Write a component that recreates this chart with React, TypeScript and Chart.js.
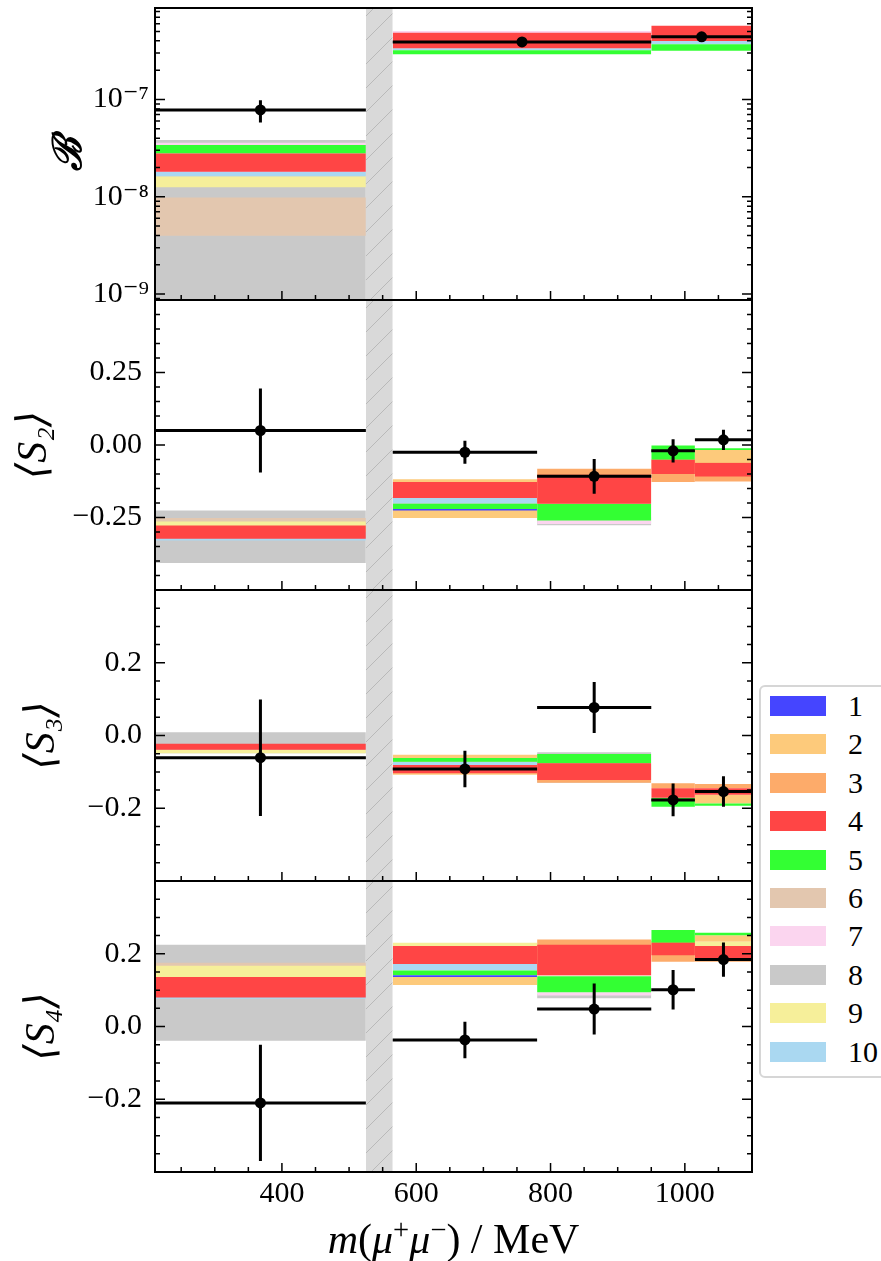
import React, { useEffect, useRef } from "react";
import { Chart, registerables } from "chart.js";
Chart.register(...registerables);

const FONT = "'Liberation Serif', 'DejaVu Serif', serif";

// ---------- models ----------
const MODEL_LABELS = ["1", "2", "3", "4", "5", "6", "7", "8", "9", "10"];
const MODEL_COLORS = [
  "#4545ff", "#fdca7b", "#fdab6a", "#ff4545", "#33ff33",
  "#e3c7af", "#fbd5ef", "#c9c9c9", "#f6ef9a", "#aad8f1",
];
// drawing order, bottom first
const DRAW_ORDER = [8, 6, 7, 2, 3, 9, 10, 5, 4, 1];

// ---------- x axis ----------
const X_RANGE = [211, 1100];
const X_MAJOR = [400, 600, 800, 1000];
const X_TICK_LABELS = ["400", "600", "800", "1000"];
const VETO = [525, 565];
const BINS_BR = [[211, 525], [565, 950], [950, 1100]];
const BINS_ANG = [[211, 525], [565, 780], [780, 950], [950, 1015], [1015, 1100]];

// ---------- measurements ----------
const BR_VALUES = [7.8e-8, 3.9e-7, 4.4e-7];
const BR_ERRORS = [2.0e-8, 1.2e-8, 1.2e-8];
const S2_VALUES = [0.05, -0.025, -0.108, -0.02, 0.018];
const S2_ERRORS = [0.145, 0.04, 0.06, 0.04, 0.035];
const S3_VALUES = [-0.061, -0.092, 0.077, -0.177, -0.154];
const S3_ERRORS = [0.16, 0.05, 0.07, 0.045, 0.042];
const S4_VALUES = [-0.21, -0.037, 0.048, 0.101, 0.184];
const S4_ERRORS = [0.16, 0.05, 0.07, 0.054, 0.047];

// ---------- predictions: [lo, hi] per model (rows 1..10) per bin ----------
type Band = number[] | null;
const BR_BANDS: Band[][] = [
  [null, null, null],
  [null, null, null],
  [null, null, null],
  [[1.81e-8, 2.79e-8], [3.35e-7, 4.84e-7], [3.98e-7, 5.71e-7]],
  [[2.79e-8, 3.4e-8], [2.91e-7, 3.2e-7], [3.17e-7, 3.68e-7]],
  [[3.97e-9, 9.86e-9], null, null],
  [[1.8e-8, 3.59e-8], [3.3e-7, 5.05e-7], null],
  [[5e-10, 3.83e-8], null, null],
  [[1.25e-8, 1.63e-8], null, null],
  [[1.63e-8, 1.81e-8], [3.2e-7, 3.35e-7], [3.68e-7, 3.98e-7]],
];
const S2_BANDS: Band[][] = [
  [null, [-0.226, -0.221], null, null, null],
  [null, [-0.252, -0.118], null, null, [-0.062, -0.017]],
  [null, null, [-0.2, -0.082], [-0.128, -0.05], [-0.126, -0.06]],
  [[-0.323, -0.278], [-0.183, -0.128], [-0.203, -0.103], [-0.1, -0.051], [-0.109, -0.062]],
  [null, [-0.221, -0.203], [-0.26, -0.203], [-0.051, -0.002], [-0.017, -0.011]],
  [[-0.3, -0.252], null, null, null, null],
  [null, null, [-0.272, -0.2], null, null],
  [[-0.407, -0.226], null, [-0.277, -0.25], null, null],
  [[-0.3, -0.264], null, null, null, null],
  [[-0.329, -0.3], [-0.203, -0.183], null, null, null],
];
const S3_BANDS: Band[][] = [
  [null, null, null, null, null],
  [null, [-0.108, -0.053], null, null, [-0.187, -0.163]],
  [null, null, [-0.13, -0.08], [-0.145, -0.131], [-0.145, -0.133]],
  [[-0.039, -0.023], [-0.104, -0.081], [-0.122, -0.076], [-0.171, -0.145], [-0.163, -0.145]],
  [null, [-0.072, -0.062], [-0.076, -0.051], [-0.196, -0.171], [-0.193, -0.187]],
  [null, null, null, null, null],
  [null, null, null, null, null],
  [[-0.049, 0.009], null, [-0.13, -0.046], null, null],
  [[-0.049, -0.039], null, null, null, null],
  [null, [-0.081, -0.072], null, null, null],
];
const S4_BANDS: Band[][] = [
  [null, [0.136, 0.141], null, null, null],
  [null, [0.114, 0.136], null, null, [0.233, 0.251]],
  [null, null, [0.141, 0.239], [0.178, 0.236], [0.178, 0.221]],
  [[0.08, 0.136], [0.172, 0.221], [0.141, 0.225], [0.196, 0.23], [0.184, 0.221]],
  [null, [0.141, 0.154], [0.094, 0.138], [0.23, 0.265], [0.251, 0.258]],
  [[0.136, 0.175], null, null, null, null],
  [null, null, [0.085, 0.094], null, null],
  [[-0.039, 0.225], null, [0.078, 0.09], null, null],
  [[0.136, 0.167], [0.172, 0.23], null, null, [0.221, 0.233]],
  [[0.076, 0.09], [0.154, 0.172], null, null, null],
];

// ---------- y tick labels ----------
const BR_TICKS = [1e-9, 1e-8, 1e-7];
const BR_TICK_LABELS = ["10\u207B\u2079", "10\u207B\u2078", "10\u207B\u2077"];
const S2_TICKS = [-0.25, 0, 0.25];
const S2_TICK_LABELS = ["\u22120.25", "0.00", "0.25"];
const S34_TICKS = [-0.2, 0, 0.2];
const S34_TICK_LABELS = ["\u22120.2", "0.0", "0.2"];

interface Panel {
  top: number;
  bottom: number;
  logY: boolean;
  yMin: number;
  yMax: number;
  yMajor: number[];
  yLabels: string[];
  minorStep: number;
  labelPad: number;
  title: string;
  titleCenter: number;
  titleFont: any;
  bins: number[][];
  bands: Band[][];
  values: number[];
  errors: number[];
  showX: boolean;
}

const TITLE_FONT = { family: FONT, size: 42, style: "italic" as const };

const PANELS: Panel[] = [
  {
    top: 8, bottom: 300, logY: true, yMin: 8.7e-10, yMax: 8.7e-7,
    yMajor: BR_TICKS, yLabels: BR_TICK_LABELS, minorStep: 0, labelPad: 6,
    title: "\u212C", titleCenter: 71,
    titleFont: { family: "'DejaVu Serif', serif", size: 40, weight: "bold" as const, style: "italic" as const },
    bins: BINS_BR, bands: BR_BANDS, values: BR_VALUES, errors: BR_ERRORS, showX: false,
  },
  {
    top: 300, bottom: 590, logY: false, yMin: -0.5, yMax: 0.5,
    yMajor: S2_TICKS, yLabels: S2_TICK_LABELS, minorStep: 0.05, labelPad: 13,
    title: "\u27E8S\u2082\u27E9", titleCenter: 35, titleFont: TITLE_FONT,
    bins: BINS_ANG, bands: S2_BANDS, values: S2_VALUES, errors: S2_ERRORS, showX: false,
  },
  {
    top: 590, bottom: 881, logY: false, yMin: -0.4, yMax: 0.4,
    yMajor: S34_TICKS, yLabels: S34_TICK_LABELS, minorStep: 0.05, labelPad: 13,
    title: "\u27E8S\u2083\u27E9", titleCenter: 43, titleFont: TITLE_FONT,
    bins: BINS_ANG, bands: S3_BANDS, values: S3_VALUES, errors: S3_ERRORS, showX: false,
  },
  {
    top: 881, bottom: 1172, logY: false, yMin: -0.4, yMax: 0.4,
    yMajor: S34_TICKS, yLabels: S34_TICK_LABELS, minorStep: 0.05, labelPad: 13,
    title: "\u27E8S\u2084\u27E9", titleCenter: 43, titleFont: TITLE_FONT,
    bins: BINS_ANG, bands: S4_BANDS, values: S4_VALUES, errors: S4_ERRORS, showX: true,
  },
];

const PAD = 10;
const X_AXIS_H = 1261 - 1172;
const AXIS_W = 155;
const RIGHT_PAD = 881 - 752;

function canvasHeight(p: Panel) {
  return p.bottom - p.top + PAD + (p.showX ? X_AXIS_H : PAD);
}

function makeHatch(): CanvasPattern {
  const s = 24;
  const c = document.createElement("canvas");
  c.width = s;
  c.height = s;
  const g = c.getContext("2d")!;
  g.fillStyle = "#d9d9d9";
  g.fillRect(0, 0, s, s);
  g.strokeStyle = "#b9b9b9";
  g.lineWidth = 1;
  g.beginPath();
  g.moveTo(0, s);
  g.lineTo(s, 0);
  g.moveTo(-2, 2);
  g.lineTo(2, -2);
  g.moveTo(s - 2, s + 2);
  g.lineTo(s + 2, s - 2);
  g.stroke();
  return g.createPattern(c, "repeat")!;
}

function minorTicks(p: Panel): number[] {
  const out: number[] = [];
  if (p.logY) {
    for (let e = -10; e <= -6; e++) {
      for (let m = 2; m <= 9; m++) {
        const v = m * Math.pow(10, e);
        if (v >= p.yMin && v <= p.yMax) out.push(v);
      }
    }
  } else {
    const n = Math.round((p.yMax - p.yMin) / p.minorStep);
    for (let i = 0; i <= n; i++) out.push(p.yMin + i * p.minorStep);
  }
  return out;
}

function xMinorTicks(): number[] {
  const out: number[] = [];
  for (let v = 250; v <= X_RANGE[1]; v += 50) out.push(v);
  return out;
}

function zeroPadding(s: any) {
  s.paddingTop = 0;
  s.paddingBottom = 0;
  s.paddingLeft = 0;
  s.paddingRight = 0;
}

function buildChart(canvas: HTMLCanvasElement, p: Panel, hatch: CanvasPattern) {
  const datasets: any[] = [];
  let k = 0;
  DRAW_ORDER.forEach((m) => {
    p.bands[m - 1].forEach((band, bi) => {
      if (!band) return;
      datasets.push({
        label: MODEL_LABELS[m - 1],
        data: [
          { x: p.bins[bi][0], y: band[1] },
          { x: p.bins[bi][1], y: band[1] },
        ],
        fill: { value: band[0] },
        backgroundColor: MODEL_COLORS[m - 1],
        borderWidth: 0,
        pointRadius: 0,
        order: 1000 - k++,
      });
    });
  });
  datasets.push({
    label: "veto",
    data: [
      { x: VETO[0], y: p.yMax },
      { x: VETO[1], y: p.yMax },
    ],
    fill: { value: p.yMin },
    backgroundColor: hatch,
    borderWidth: 0,
    pointRadius: 0,
    order: 50,
  });
  const err: any[] = [];
  p.values.forEach((v, i) => {
    const [a, b] = p.bins[i];
    const c = (a + b) / 2;
    const e = p.errors[i];
    err.push({ x: a, y: v }, { x: b, y: v }, { x: c, y: null }, { x: c, y: v - e }, { x: c, y: v + e }, { x: c, y: null });
  });
  datasets.push({
    label: "err",
    data: err,
    borderColor: "#000",
    borderWidth: 3,
    borderCapStyle: "butt",
    pointRadius: 0,
    fill: false,
    spanGaps: false,
    order: 2,
  });
  datasets.push({
    label: "data",
    data: p.values.map((v, i) => ({ x: (p.bins[i][0] + p.bins[i][1]) / 2, y: v })),
    showLine: false,
    pointRadius: 5.5,
    pointBackgroundColor: "#000",
    pointBorderColor: "#000",
    pointBorderWidth: 0,
    fill: false,
    order: 1,
  });

  const yMinor = minorTicks(p);
  const xMinor = xMinorTicks();

  const frame = {
    id: "frameTicks",
    afterDatasetsDraw(chart: any) {
      const { ctx, chartArea: a, scales } = chart;
      const xs = scales.x;
      const ys = scales.y;
      ctx.save();
      ctx.strokeStyle = "#000";
      ctx.lineWidth = 1.5;
      ctx.beginPath();
      const xt = (v: number, len: number) => {
        const px = xs.getPixelForValue(v);
        if (px <= a.left + 1 || px >= a.right - 1) return;
        ctx.moveTo(px, a.bottom);
        ctx.lineTo(px, a.bottom - len);
      };
      const yt = (v: number, len: number) => {
        const py = ys.getPixelForValue(v);
        if (py <= a.top + 1 || py >= a.bottom - 1) return;
        ctx.moveTo(a.left, py);
        ctx.lineTo(a.left + len, py);
        ctx.moveTo(a.right, py);
        ctx.lineTo(a.right - len, py);
      };
      xMinor.forEach((v) => xt(v, 5));
      X_MAJOR.forEach((v) => xt(v, 9));
      yMinor.forEach((v) => yt(v, 5));
      p.yMajor.forEach((v) => yt(v, 10));
      ctx.stroke();
      ctx.lineWidth = 2;
      ctx.strokeRect(a.left, a.top, a.right - a.left, a.bottom - a.top);
      ctx.restore();
    },
  };

  return new Chart(canvas, {
    type: "line",
    data: { datasets },
    plugins: [frame],
    options: {
      animation: false,
      responsive: false,
      devicePixelRatio: 1,
      layout: { padding: { top: PAD, bottom: p.showX ? 0 : PAD, left: 0, right: RIGHT_PAD } },
      plugins: { legend: { display: false }, tooltip: { enabled: false } },
      scales: {
        x: {
          type: "linear",
          min: X_RANGE[0],
          max: X_RANGE[1],
          bounds: "data",
          display: p.showX,
          grid: { display: false, drawTicks: false },
          border: { display: false },
          afterBuildTicks: (s: any) => {
            s.ticks = X_MAJOR.map((v) => ({ value: v }));
          },
          ticks: {
            autoSkip: false,
            maxRotation: 0,
            padding: 4,
            color: "#000",
            font: { family: FONT, size: 30 },
            callback: (_v: any, i: number) => X_TICK_LABELS[i],
          },
          afterFit: (s: any) => {
            s.height = p.showX ? X_AXIS_H : 0;
            zeroPadding(s);
          },
        },
        y: {
          type: p.logY ? "logarithmic" : "linear",
          min: p.yMin,
          max: p.yMax,
          bounds: "data",
          position: "left",
          grid: { display: false, drawTicks: false },
          border: { display: false },
          afterBuildTicks: (s: any) => {
            s.ticks = p.yMajor.map((v) => ({ value: v }));
          },
          ticks: {
            autoSkip: false,
            padding: p.labelPad,
            color: "#000",
            font: { family: FONT, size: 30 },
            callback: (_v: any, i: number) => p.yLabels[i],
          },
          title: {
            display: true,
            text: p.title,
            color: "#000",
            font: p.titleFont,
            padding: { top: p.titleCenter - (p.titleFont.size * 1.2) / 2, bottom: 0 },
          },
          afterFit: (s: any) => {
            s.width = AXIS_W;
            zeroPadding(s);
          },
        },
      },
    } as any,
  });
}

const supStyle: React.CSSProperties = { fontSize: "0.68em", verticalAlign: "0.5em", lineHeight: 0 };

export default function App() {
  const canvases = useRef<(HTMLCanvasElement | null)[]>([]);
  useEffect(() => {
    const hatch = makeHatch();
    const charts = PANELS.map((p, i) => buildChart(canvases.current[i]!, p, hatch));
    return () => charts.forEach((c) => c.destroy());
  }, []);

  return (
    <div style={{ position: "absolute", left: 0, top: 0, width: 881, height: 1261, overflow: "hidden", background: "#fff" }}>
      {PANELS.map((p, i) => {
        const h = canvasHeight(p);
        return (
          <canvas
            key={i}
            ref={(el) => {
              canvases.current[i] = el;
            }}
            width={881}
            height={h}
            style={{ position: "absolute", left: 0, top: p.top - PAD, width: 881, height: h }}
          />
        );
      })}
      <div
        style={{
          position: "absolute",
          left: 155,
          width: 597,
          top: 1214,
          textAlign: "center",
          fontFamily: FONT,
          fontSize: 42,
          lineHeight: "50px",
          color: "#000",
          whiteSpace: "nowrap",
        }}
      >
        <i>m</i>(<i>μ</i>
        <sup style={supStyle}>+</sup>
        <i>μ</i>
        <sup style={supStyle}>−</sup>) / MeV
      </div>
      <div
        style={{
          position: "absolute",
          left: 759,
          top: 685,
          width: 150,
          height: 393,
          boxSizing: "border-box",
          border: "2px solid #d6d6d6",
          borderRadius: 6,
          background: "#fff",
        }}
      >
        {MODEL_LABELS.map((l, i) => (
          <div key={l} style={{ position: "absolute", left: 9, top: 9 + i * 38.4, height: 20, width: 130 }}>
            <div style={{ position: "absolute", left: 0, top: 0, width: 56, height: 20, background: MODEL_COLORS[i] }} />
            <div
              style={{
                position: "absolute",
                left: 78,
                top: -8,
                height: 36,
                lineHeight: "36px",
                fontFamily: FONT,
                fontSize: 30,
                color: "#000",
              }}
            >
              {l}
            </div>
          </div>
        ))}
      </div>
    </div>
  );
}
